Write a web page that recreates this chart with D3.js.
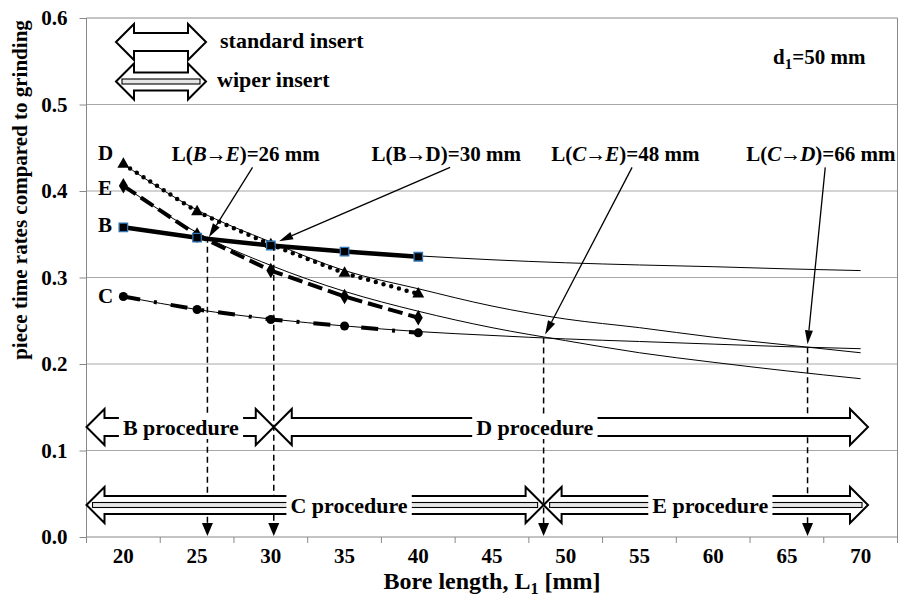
<!DOCTYPE html>
<html>
<head>
<meta charset="utf-8">
<script src="https://cdn.jsdelivr.net/npm/d3@7"></script>
<style>
body { margin: 0; background: #fff; }
text { font-family: "Liberation Serif", "Times New Roman", serif; font-weight: bold; fill: #000; }
</style>
</head>
<body>
<svg width="902" height="598"></svg>
<script>
// bore lengths on the category axis [mm]
const lengths = [20, 25, 30, 35, 40, 45, 50, 55, 60, 65, 70];
const measured = [20, 25, 30, 35, 40];

// piece time rates compared to grinding
const rateB = [0.358, 0.346, 0.337, 0.330, 0.324];
const rateC = [0.278, 0.263, 0.2515, 0.244, 0.236];
const rateD = [0.431, 0.376, 0.338, 0.305, 0.281];
const rateE = [0.406, 0.349, 0.308, 0.278, 0.2535];

// thin trend lines, read every 5 mm up to 70 mm
const trendB = [0.358, 0.346, 0.3375, 0.330, 0.325, 0.3205, 0.317, 0.3145, 0.3125, 0.310, 0.308];
const trendC = [0.278, 0.263, 0.252, 0.244, 0.2375, 0.233, 0.229, 0.226, 0.223, 0.220, 0.2177];
const trendD = [0.431, 0.378, 0.341, 0.308, 0.287, 0.267, 0.252, 0.242, 0.231, 0.222, 0.213];
const trendE = [0.406, 0.352, 0.314, 0.284, 0.261, 0.242, 0.227, 0.213, 0.202, 0.192, 0.183];

const yTicks = [0, 0.1, 0.2, 0.3, 0.4, 0.5, 0.6];

// break-even points L(X->Y)
const crossFrom = ["B", "B", "C", "C"];
const crossTo = ["E", "D", "E", "D"];
const crossMM = [26, 30, 48, 66];
const crossItalic = [true, false, true, true];
const crossLength = [25.7, 30.2, 48.5, 66.4];
const crossRate = [0.347, 0.338, 0.2305, 0.2195];

// procedure ranges [mm]
const procNames = ["B procedure", "D procedure", "C procedure", "E procedure"];
const procFrom = [17.5, 30.2, 17.5, 48.5];
const procTo = [30.2, 70.5, 48.5, 70.5];
const procInsert = ["standard", "standard", "wiper", "wiper"];

const svg = d3.select("svg");
const plotL = 86.5, plotR = 897.5, plotT = 18, plotB = 537;

const band = d3.scaleBand().domain(lengths).range([plotL, plotR]).padding(0);
const bw = band.bandwidth();
const x = d3.scaleLinear().domain([20, 70]).range([band(20) + bw / 2, band(70) + bw / 2]);
const y = d3.scaleLinear().domain([0, 0.6]).range([plotB, plotT]);

// gridlines + plot border
svg.append("g").selectAll("line")
    .data(yTicks.filter(d => d > 0 && d < 0.6))
    .enter().append("line")
    .attr("x1", plotL).attr("x2", plotR)
    .attr("y1", d => y(d)).attr("y2", d => y(d))
    .attr("stroke", "#a8a8a8");
svg.append("path")
    .attr("d", `M${plotL},${plotT}H${plotR}V${plotB}`)
    .attr("fill", "none").attr("stroke", "#888");

// axes
const yAxis = svg.append("g")
    .attr("transform", `translate(${plotL},0)`)
    .call(d3.axisLeft(y).tickValues(yTicks).tickFormat(d3.format(".1f")).tickSize(7).tickPadding(12));
yAxis.selectAll("text").style("font-size", "21px");
yAxis.selectAll("line, path").attr("stroke", "#888");
yAxis.select(".domain").attr("d", `M0,${plotT}V${plotB}`);

const xAxis = svg.append("g")
    .attr("transform", `translate(0,${plotB})`)
    .call(d3.axisBottom(band).tickSize(0).tickPadding(11));
xAxis.selectAll("text").style("font-size", "21px");
xAxis.selectAll("line, path").remove();
svg.append("line").attr("x1", plotL).attr("x2", plotR).attr("y1", plotB).attr("y2", plotB).attr("stroke", "#888");
svg.append("g").selectAll("line")
    .data(lengths.concat(["end"]))
    .enter().append("line")
    .attr("x1", (d, i) => plotL + i * bw).attr("x2", (d, i) => plotL + i * bw)
    .attr("y1", plotB).attr("y2", plotB + 6)
    .attr("stroke", "#888");

svg.append("text")
    .attr("transform", "translate(27,190) rotate(-90)")
    .attr("text-anchor", "middle")
    .style("font-size", "21px")
    .text("piece time rates compared to grinding");

const xt = svg.append("text")
    .attr("x", 492).attr("y", 589)
    .attr("text-anchor", "middle")
    .style("font-size", "24px");
xt.append("tspan").text("Bore length, L");
xt.append("tspan").attr("dy", 5).style("font-size", "16px").text("1");
xt.append("tspan").attr("dy", -5).text(" [mm]");

// trend lines
const trendLine = d3.line().x((d, i) => x(lengths[i])).y(d => y(d)).curve(d3.curveMonotoneX);
svg.append("g").selectAll("path")
    .data([trendB, trendC, trendD, trendE])
    .enter().append("path")
    .attr("d", trendLine)
    .attr("fill", "none").attr("stroke", "#000").attr("stroke-width", 1);

// measured series
const series = [
    { name: "C", values: rateC, dash: "17,14,3,14", width: 4, cap: "butt", symbol: d3.symbolCircle, size: 64 },
    { name: "E", values: rateE, dash: "15,6", width: 4, cap: "butt", symbol: d3.symbolDiamond, size: 70 },
    { name: "D", values: rateD, dash: "0,8", width: 4.5, cap: "round", symbol: d3.symbolTriangle, size: 62 },
    { name: "B", values: rateB, dash: null, width: 4.5, cap: "butt", symbol: d3.symbolSquare, size: 72 }
];
const seriesLine = d3.line().x((d, i) => x(measured[i])).y(d => y(d));
series.forEach(s => {
    svg.append("path")
        .attr("d", seriesLine(s.values))
        .attr("fill", "none").attr("stroke", "#000")
        .attr("stroke-width", s.width)
        .attr("stroke-linecap", s.cap)
        .attr("stroke-dasharray", s.dash);
});
series.forEach(s => {
    svg.append("g").selectAll("path")
        .data(s.values)
        .enter().append("path")
        .attr("transform", (d, i) => `translate(${x(measured[i])},${y(d)})`)
        .attr("d", d3.symbol().type(s.symbol).size(s.size))
        .attr("fill", "#000")
        .attr("stroke", s.name === "B" ? "#2e75b6" : "none")
        .attr("stroke-width", 1.3);
});

const seriesLabelY = { D: 160, E: 195, B: 232, C: 303 };
Object.keys(seriesLabelY).forEach(k => {
    svg.append("text").attr("x", 98).attr("y", seriesLabelY[k]).style("font-size", "21px").text(k);
});

// vertical dashed lines to the axis
crossLength.forEach((c, i) => {
    const px = x(c);
    svg.append("line")
        .attr("x1", px).attr("x2", px)
        .attr("y1", y(crossRate[i])).attr("y2", plotB - 14)
        .attr("stroke", "#000").attr("stroke-width", 1.5)
        .attr("stroke-dasharray", "6,4");
});

// callout arrows and notes
const noteLength = [28.3, 41.9, 54.05, 67.3];
const noteStart = [28.76, 42.16, 54.5, 67.6];
const noteTip = [[25.8, 0.3465], [30.56, 0.342], [48.6, 0.2342], [66.4, 0.2227]];
const noteRate = 0.435, startRate = 0.4273;

function pointer(x0, y0, x1, y1) {
    const dx = x1 - x0, dy = y1 - y0, len = Math.hypot(dx, dy);
    const ux = dx / len, uy = dy / len, hl = 14, hw = 4;
    const bx = x1 - ux * hl, by = y1 - uy * hl;
    svg.append("line").attr("x1", x0).attr("y1", y0).attr("x2", bx).attr("y2", by)
        .attr("stroke", "#000").attr("stroke-width", 1.3);
    svg.append("path")
        .attr("d", `M${x1},${y1}L${bx - uy * hw},${by + ux * hw}L${bx + uy * hw},${by - ux * hw}Z`)
        .attr("fill", "#000");
}

crossMM.forEach((mm, i) => {
    pointer(x(noteStart[i]), y(startRate), x(noteTip[i][0]), y(noteTip[i][1]));
    const t = svg.append("text")
        .attr("x", x(noteLength[i])).attr("y", y(noteRate))
        .attr("text-anchor", "middle")
        .style("font-size", "21px");
    t.append("tspan").text("L(");
    t.append("tspan").style("font-style", crossItalic[i] ? "italic" : "normal").text(crossFrom[i]);
    t.append("tspan").attr("dx", -1).text("→");
    t.append("tspan").attr("dx", -1).style("font-style", crossItalic[i] ? "italic" : "normal").text(crossTo[i]);
    t.append("tspan").text(")=" + mm + " mm");
});

// block double arrows
function arrowPoints(x0, x1, cy) {
    const hl = 18, hh = 18, sh = 9;
    return [[x0, cy], [x0 + hl, cy - hh], [x0 + hl, cy - sh], [x1 - hl, cy - sh], [x1 - hl, cy - hh],
        [x1, cy], [x1 - hl, cy + hh], [x1 - hl, cy + sh], [x0 + hl, cy + sh], [x0 + hl, cy + hh]];
}
function drawArrows(g, items) {
    items.forEach(a => g.append("path").attr("d", d3.line()(arrowPoints(a.x0, a.x1, a.cy)) + "Z").attr("fill", "#fff"));
    items.forEach(a => g.append("path").attr("d", d3.line()(arrowPoints(a.x0, a.x1, a.cy)) + "Z")
        .attr("fill", "none").attr("stroke", "#000").attr("stroke-width", 2).attr("stroke-linejoin", "miter"));
    items.filter(a => a.kind === "wiper").forEach(a => {
        g.append("rect")
            .attr("x", a.x0 + 6).attr("y", a.cy - 2.5)
            .attr("width", a.x1 - a.x0 - 12).attr("height", 5)
            .attr("fill", "#e6e6e6").attr("stroke", "#000").attr("stroke-width", 1.1);
    });
}

const rowY = { standard: 427, wiper: 505 };
const procLabelAt = [23.9, 47.9, 35.3, 59.8];
const procG = svg.append("g");
drawArrows(procG, procNames.map((n, i) => ({ x0: x(procFrom[i]), x1: x(procTo[i]), cy: rowY[procInsert[i]], kind: procInsert[i] })));
procNames.forEach((n, i) => {
    const cy = rowY[procInsert[i]];
    const t = procG.append("text")
        .attr("x", x(procLabelAt[i])).attr("y", cy + 7.5)
        .attr("text-anchor", "middle")
        .style("font-size", "22px")
        .text(n);
    const bb = t.node().getBBox();
    procG.insert("rect", () => t.node())
        .attr("x", bb.x - 4).attr("y", cy - 12)
        .attr("width", bb.width + 8).attr("height", 24)
        .attr("fill", "#fff");
});

// legend
const legG = svg.append("g");
drawArrows(legG, [{ x0: 116, x1: 206, cy: 42, kind: "standard" }, { x0: 116, x1: 206, cy: 81.5, kind: "wiper" }]);
legG.append("text").attr("x", 220).attr("y", 48).style("font-size", "22px").text("standard insert");
legG.append("text").attr("x", 217).attr("y", 87).style("font-size", "22px").text("wiper insert");

const dt = svg.append("text").attr("x", 773).attr("y", 64).style("font-size", "21px");
dt.append("tspan").text("d");
dt.append("tspan").attr("dy", 5).style("font-size", "15px").text("1");
dt.append("tspan").attr("dy", -5).text("=50 mm");

// arrowheads of the dashed lines, on top
crossLength.forEach(c => {
    const px = x(c);
    svg.append("path")
        .attr("d", `M${px - 5.5},${plotB - 14}L${px + 5.5},${plotB - 14}L${px},${plotB - 1}Z`)
        .attr("fill", "#000");
});
</script>
</body>
</html>
